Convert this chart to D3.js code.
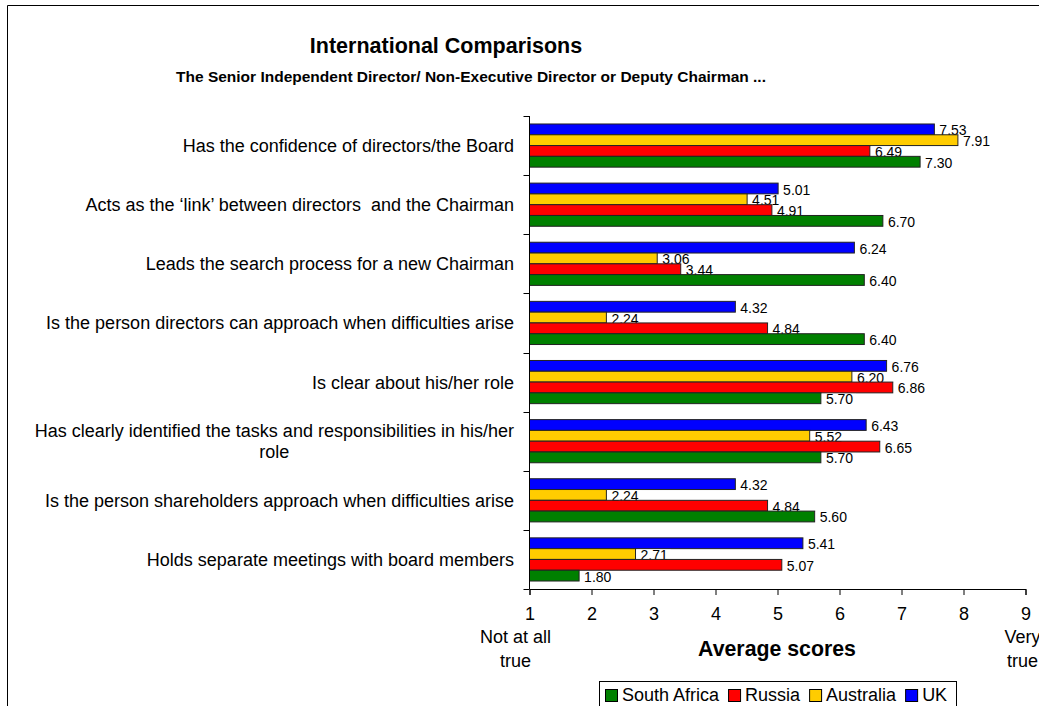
<!DOCTYPE html>
<html>
<head>
<meta charset="utf-8">
<script src="https://cdn.jsdelivr.net/npm/d3@7"></script>
<style>
  html, body { margin: 0; padding: 0; background: #fff; }
  svg { display: block; font-family: "Liberation Sans", Arial, sans-serif; }
  svg text { white-space: pre; }
</style>
</head>
<body>
<svg id="chart" width="1039" height="706"></svg>
<script>
// ---- data ----
const categories = [
  "Has the confidence of directors/the Board",
  "Acts as the \u2018link\u2019 between directors  and the Chairman",
  "Leads the search process for a new Chairman",
  "Is the person directors can approach when difficulties arise",
  "Is clear about his/her role",
  "Has clearly identified the tasks and responsibilities in his/her\nrole",
  "Is the person shareholders approach when difficulties arise",
  "Holds separate meetings with board members"
];
const seriesNames = ["South Africa", "Russia", "Australia", "UK"];
const southAfrica = [7.30, 6.70, 6.40, 6.40, 5.70, 5.70, 5.60, 1.80];
const russia      = [6.49, 4.91, 3.44, 4.84, 6.86, 6.65, 4.84, 5.07];
const australia   = [7.91, 4.51, 3.06, 2.24, 6.20, 5.52, 2.24, 2.71];
const uk          = [7.53, 5.01, 6.24, 4.32, 6.76, 6.43, 4.32, 5.41];
const seriesColors = ["#008000", "#FF0000", "#FFCC00", "#0000FF"];
const xTickValues = [1, 2, 3, 4, 5, 6, 7, 8, 9];
const titleText = "International Comparisons";
const subtitleText = "The Senior Independent Director/ Non-Executive Director or Deputy Chairman ...";
const xAxisTitle = "Average scores";

const seriesValues = { "South Africa": southAfrica, "Russia": russia, "Australia": australia, "UK": uk };
const colorOf = d3.scaleOrdinal().domain(seriesNames).range(seriesColors);

const svg = d3.select("#chart");

// chart area border (left + top visible)
svg.append("path")
  .attr("d", "M7.5,706 L7.5,5.5 L1039,5.5")
  .attr("fill", "none").attr("stroke", "#000").attr("stroke-width", 1);

// titles
svg.append("text").attr("x", 446).attr("y", 53)
  .attr("text-anchor", "middle").attr("font-size", 21.5).attr("font-weight", "bold")
  .text(titleText);
svg.append("text").attr("x", 471).attr("y", 82)
  .attr("text-anchor", "middle").attr("font-size", 15.5).attr("font-weight", "bold")
  .text(subtitleText);

// scales
const x = d3.scaleLinear().domain([1, 9]).range([529.5, 1025.5]);
const y = d3.scaleBand().domain(categories).range([116, 589])
  .paddingInner(0.27).paddingOuter(0.135);
const drawOrder = ["UK", "Australia", "Russia", "South Africa"]; // top to bottom
const yInner = d3.scaleBand().domain(drawOrder).range([0, y.bandwidth()]);

// bars + labels, series by series
drawOrder.forEach(name => {
  const vals = seriesValues[name];
  const g = svg.append("g").attr("class", "series");
  categories.forEach((cat, i) => {
    const v = vals[i];
    const top = y(cat) + yInner(name);
    const h = yInner.bandwidth();
    g.append("rect")
      .attr("x", x(1)).attr("y", top)
      .attr("width", x(v) - x(1)).attr("height", h)
      .attr("fill", colorOf(name))
      .attr("stroke", "#222").attr("stroke-width", 1);
  });
  categories.forEach((cat, i) => {
    const v = vals[i];
    const top = y(cat) + yInner(name);
    const h = yInner.bandwidth();
    const lg = g.append("g");
    const bg = lg.append("rect");
    const t = lg.append("text")
      .attr("x", x(v) + 5).attr("y", top + h / 2 + 6)
      .attr("font-size", 14).attr("fill", "#000")
      .text(v.toFixed(2));
    const w = t.node().getComputedTextLength();
    bg.attr("x", x(v) + 1).attr("y", top + 1)
      .attr("width", w + 7).attr("height", 16)
      .attr("fill", "#fff");
  });
});

// left axis line and ticks at category boundaries
const yBoundaries = d3.range(categories.length + 1).map(i => y.range()[0] + i * y.step());
svg.append("line").attr("x1", x(1)).attr("x2", x(1))
  .attr("y1", y.range()[0]).attr("y2", y.range()[1])
  .attr("stroke", "#000");
svg.selectAll(".ytick").data(yBoundaries).enter().append("line")
  .attr("x1", x(1) - 6).attr("x2", x(1))
  .attr("y1", d => Math.round(d) + 0.5).attr("y2", d => Math.round(d) + 0.5)
  .attr("stroke", "#000");

// category labels
const labelRight = 514;
categories.forEach(cat => {
  const lines = cat.split("\n");
  const cy = y(cat) + y.bandwidth() / 2;
  const lh = 21;
  const t = svg.append("text").attr("font-size", 18).attr("text-anchor", "middle").attr("fill", "#000");
  lines.forEach((ln, k) => {
    t.append("tspan").attr("x", 0)
      .attr("y", cy + 6.5 + (k - (lines.length - 1) / 2) * lh)
      .text(ln);
  });
  let maxW = 0;
  t.selectAll("tspan").each(function () { maxW = Math.max(maxW, this.getComputedTextLength()); });
  t.selectAll("tspan").attr("x", labelRight - maxW / 2);
});

// bottom axis
const xAxis = d3.axisBottom(x).tickValues(xTickValues).tickSize(6).tickPadding(12).tickFormat(d3.format("d"));
const gx = svg.append("g").attr("transform", `translate(0,${y.range()[1]})`).call(xAxis);
gx.select(".domain").attr("stroke", "#000");
gx.selectAll(".tick line").attr("stroke", "#000");
gx.selectAll(".tick text").attr("font-size", 18).attr("font-family", "Liberation Sans, Arial, sans-serif").attr("fill", "#000");

// end labels
function multi(xc, lines, y0) {
  const t = svg.append("text").attr("font-size", 18).attr("text-anchor", "middle");
  lines.forEach((ln, k) => t.append("tspan").attr("x", xc).attr("y", y0 + k * 24).text(ln));
}
multi(x(1) - 14, ["Not at all", "true"], 643);
multi(x(9) - 3, ["Very", "true"], 643);

svg.append("text").attr("x", 777).attr("y", 656)
  .attr("text-anchor", "middle").attr("font-size", 21.3).attr("font-weight", "bold")
  .text(xAxisTitle);

// legend
const legend = svg.append("g");
legend.append("rect").attr("x", 599.5).attr("y", 681.5).attr("width", 357).attr("height", 40)
  .attr("fill", "#fff").attr("stroke", "#000");
let lx = 605;
seriesNames.forEach(name => {
  legend.append("rect").attr("x", lx + 0.5).attr("y", 689.5).attr("width", 12).attr("height", 12)
    .attr("fill", colorOf(name)).attr("stroke", "#000");
  const t = legend.append("text").attr("x", lx + 17).attr("y", 701).attr("font-size", 18).text(name);
  lx += 17 + t.node().getComputedTextLength() + 9;
});
</script>
</body>
</html>
